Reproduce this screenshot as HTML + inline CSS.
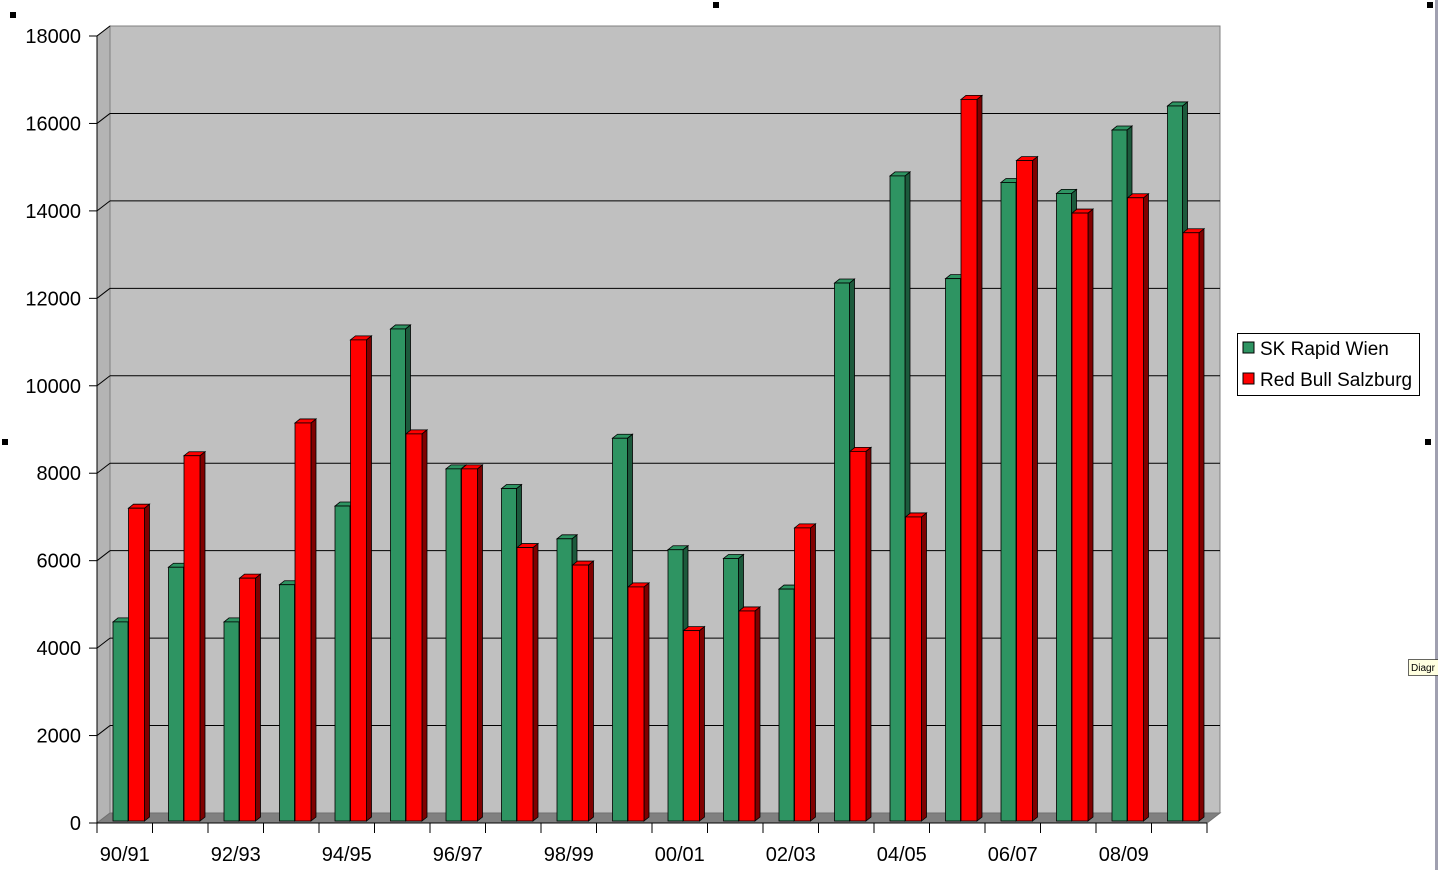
<!DOCTYPE html>
<html><head><meta charset="utf-8"><style>
html,body{margin:0;padding:0;background:#fff;}
svg{display:block;font-family:"Liberation Sans",Arial,sans-serif;}
</style></head><body>
<svg id="c" width="1438" height="870" xmlns="http://www.w3.org/2000/svg"></svg>
<script>
const s=document.getElementById('c');
let h='';
const X0=97,X1=1207,Y0=823,K=(823-36)/18000,DX=13,DY=-10;
h+=`<polygon points="${X0},${Y0} ${X0+DX},${Y0+DY} ${X0+DX},${36+DY} ${X0},36" fill="#b4b4b4" stroke="#808080"/>`;
h+=`<rect x="${X0+DX}" y="${36+DY}" width="${X1-X0}" height="${Y0-36}" fill="#c0c0c0" stroke="#808080"/>`;
h+=`<polygon points="${X0},${Y0} ${X1},${Y0} ${X1+DX},${Y0+DY} ${X0+DX},${Y0+DY}" fill="#808080" stroke="#707070"/>`;
for(let v=2000;v<=18000;v+=2000){const y=Y0-v*K;
 if(v<18000)h+=`<line x1="${X0+DX}" y1="${y+DY}" x2="${X1+DX}" y2="${y+DY}" stroke="#000" stroke-width="1"/>`;
 h+=`<line x1="${X0}" y1="${y}" x2="${X0+DX}" y2="${y+DY}" stroke="#000"/>`;}
h+=`<line x1="${X0}" y1="36" x2="${X0}" y2="${Y0}" stroke="#000"/>`;
h+=`<line x1="${X0}" y1="${Y0}" x2="${X1}" y2="${Y0}" stroke="#000"/>`;
for(let v=0;v<=18000;v+=2000){const y=Y0-v*K;
 h+=`<line x1="${X0-8}" y1="${y}" x2="${X0}" y2="${y}" stroke="#000"/>`;
 h+=`<text x="81" y="${y+7}" font-size="20" text-anchor="end">${v}</text>`;}
const W=(X1-X0)/20;
for(let i=0;i<=20;i++){const x=X0+i*W;h+=`<line x1="${x}" y1="${Y0}" x2="${x}" y2="${Y0+10}" stroke="#000"/>`;}
const labs=['90/91','92/93','94/95','96/97','98/99','00/01','02/03','04/05','06/07','08/09'];
labs.forEach((l,j)=>{const x=X0+(2*j+0.5)*W;h+=`<text x="${x}" y="861" font-size="20" text-anchor="middle">${l}</text>`;});
const G=[4600,5850,4600,5450,7250,11300,8100,7650,6500,8800,6250,6050,5350,12350,14800,12450,14650,14400,15850,16400];
const R=[7200,8400,5600,9150,11050,8900,8100,6300,5900,5400,4400,4850,6750,8500,7000,16550,15150,13950,14300,13500];
function bar(x,w,v,f,top,side){const yb=821,yt=Y0-v*K,d=5,e=-4;
 return `<polygon points="${x+w},${yb} ${x+w+d},${yb+e} ${x+w+d},${yt+e} ${x+w},${yt}" fill="${side}" stroke="#000" stroke-width="0.8"/>`+
 `<polygon points="${x},${yt} ${x+d},${yt+e} ${x+w+d},${yt+e} ${x+w},${yt}" fill="${top}" stroke="#000" stroke-width="0.8"/>`+
 `<rect x="${x}" y="${yt}" width="${w}" height="${yb-yt}" fill="${f}" stroke="#000" stroke-width="0.8"/>`;}
for(let i=0;i<20;i++){const x=X0+i*W+16;
 h+=bar(x,15,G[i],'#2e9462','#2e9462','#1c5a3c');
 h+=bar(x+15.5,16,R[i],'#ff0000','#ff0000','#800000');}
h+=`<rect x="1237.5" y="333.5" width="182" height="62" fill="#fff" stroke="#000"/>`;
h+=`<rect x="1243" y="342" width="11" height="11" fill="#2e9462" stroke="#000"/>`;
h+=`<text x="1260" y="355" font-size="19">SK Rapid Wien</text>`;
h+=`<rect x="1243" y="373" width="11" height="11" fill="#ff0000" stroke="#000"/>`;
h+=`<text x="1260" y="386" font-size="19">Red Bull Salzburg</text>`;
[[13,15],[716,5],[1430,5],[5,442],[1428,442]].forEach(p=>h+=`<rect x="${p[0]-3}" y="${p[1]-3}" width="6" height="6" fill="#000"/>`);
h+=`<rect x="1435" y="0" width="3" height="870" fill="#a0a0b0"/>`;
h+=`<rect x="1408.5" y="659.5" width="30" height="16" fill="#ffffe0" stroke="#000" stroke-width="0.6"/><text x="1411" y="671" font-size="10">Diagr</text>`;
s.innerHTML=h;
</script>
</body></html>
